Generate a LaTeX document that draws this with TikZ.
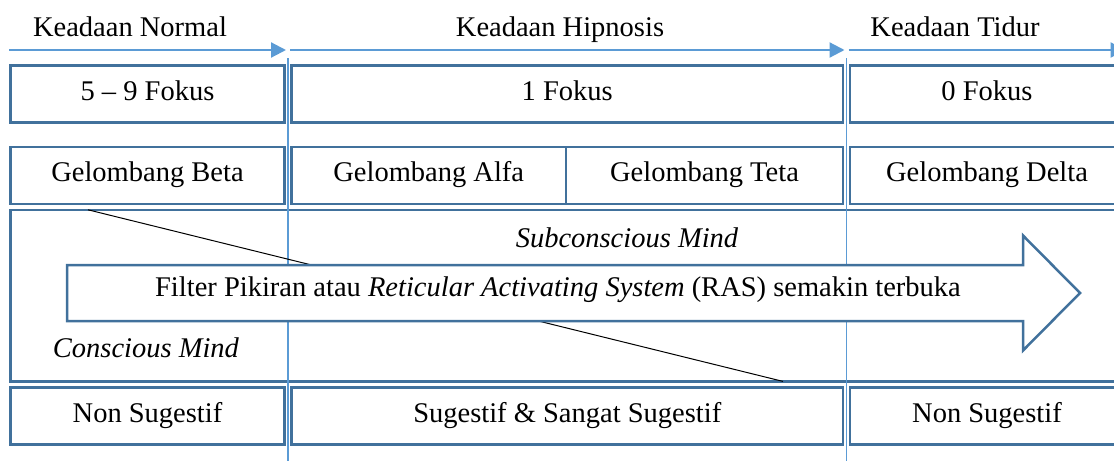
\documentclass[tikz,border=0pt]{standalone}
\usepackage{fontspec}
\setmainfont{Liberation Serif}
\usepackage{tikz}
\usetikzlibrary{positioning,arrows.meta}
\usepackage{xcolor}
\definecolor{boxblue}{RGB}{65,113,156}
\definecolor{lineblue}{RGB}{91,155,213}
\newcommand{\diagfont}{\fontsize{28.5}{34}\selectfont}

\begin{document}
\begin{tikzpicture}[x=1pt, y=-1pt,
        box/.style={rectangle, draw=boxblue, line width=2.5pt, minimum width=274pt, minimum height=57pt, inner sep=0pt, outer sep=0pt, text height=19pt, text depth=6pt, font=\diagfont},
        lbl/.style={inner sep=0pt, text height=19pt, text depth=6pt, font=\diagfont},
        phase/.style={-{Triangle[length=15pt, width=15pt]}, draw=lineblue, line width=2.2pt},
        divider/.style={draw=lineblue, line width=1.6pt},
        filterarrow/.style={draw=boxblue, line width=2.5pt, fill=white, line join=miter}
    ]
        \clip (0,0) rectangle (1114,461);
        \node[box] (fokusN) at (147.5,94) {5 -- 9 Fokus};
        \node[box, minimum width=551.5pt, right=7pt of fokusN] (fokusH) {1 Fokus};
        \node[box, right=7pt of fokusH] (fokusT) {0 Fokus};
        \node[box, below=24.3pt of fokusN] (beta) {Gelombang Beta};
        \node[box, minimum width=274.5pt, right=7pt of beta] (alfa) {Gelombang Alfa};
        \node[box, minimum width=277pt, right=0pt of alfa] (teta) {Gelombang Teta};
        \node[box, right=7pt of teta] (delta) {Gelombang Delta};
        \node[box, minimum width=1113.5pt, minimum height=171.6pt, anchor=north west] (mind) at ([yshift=-6pt]beta.south west) {};
        \node[box, anchor=north west] (sugN) at ([yshift=-6.2pt]mind.south west) {Non Sugestif};
        \node[box, minimum width=551.5pt, right=7pt of sugN] (sugH) {Sugestif \& Sangat Sugestif};
        \node[box, right=7pt of sugH] (sugT) {Non Sugestif};
        \node[lbl] (normal) at (130,30) {Keadaan Normal};
        \node[lbl] (hipnosis) at (560,30) {Keadaan Hipnosis};
        \node[lbl] (tidur) at (955,30) {Keadaan Tidur};
        \foreach \b in {fokusN, fokusH, fokusT}
            \draw[phase] ([shift={(-1.5pt,15.5pt)}]\b.north west) -- ([shift={(1.5pt,15.5pt)}]\b.north east);
        \coordinate (divAtop) at (288,58);
        \coordinate (divAbot) at (288,461);
        \coordinate (divBtop) at (846.5,58);
        \coordinate (divBbot) at (846.5,461);
        \draw[divider] (divAtop) -- (divAbot);
        \draw[divider] (divBtop) -- (divBbot);
        \coordinate (rasStart) at ([xshift=77.5pt]mind.north west);
        \coordinate (rasEnd) at ([xshift=772.5pt]mind.south west);
        \draw[black, line width=1pt] (rasStart) -- (rasEnd);
        \draw[filterarrow] (67,265) -- (1023,265) -- (1023,235.5) -- (1080,293) -- (1023,350.5) -- (1023,321) -- (67,321) -- cycle;
        \node[lbl] (ras) at (558,289.5) {Filter Pikiran atau \textit{Reticular Activating System} (RAS) semakin terbuka};
        \node[lbl] (subcon) at (627,240.5) {\textit{Subconscious Mind}};
        \node[lbl] (concon) at (146,351) {\textit{Conscious Mind}};
    \end{tikzpicture}
\end{document}
